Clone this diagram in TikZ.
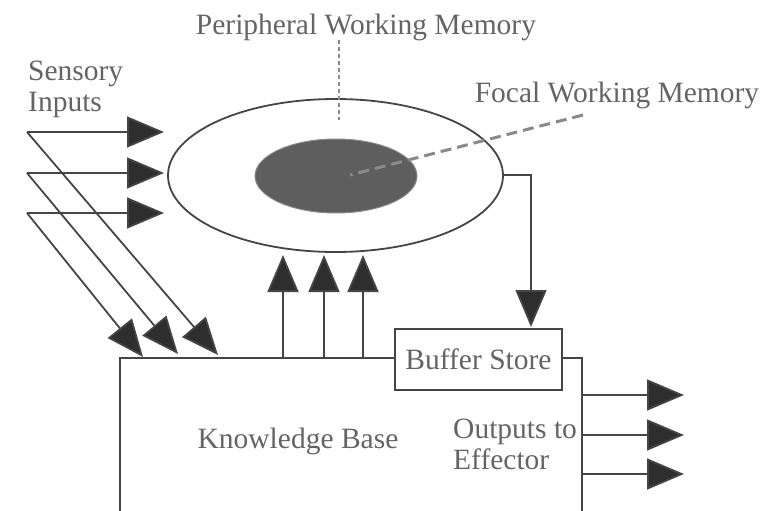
\documentclass[tikz,border=0pt]{standalone}
\usepackage{fontspec}
\setmainfont{Liberation Serif}
\usetikzlibrary{arrows.meta,shapes.geometric}
\definecolor{lineg}{HTML}{454545}
\definecolor{textg}{HTML}{646464}
\definecolor{tipfill}{HTML}{2E2E2E}
\definecolor{focalfill}{HTML}{5E5E5E}
\definecolor{leadg}{HTML}{8A8A8A}
\tikzset{
  conn/.style={draw=lineg, line width=1.8pt},
  bigarrow/.style={conn, -{Triangle[length=37pt 0,width=31pt 0,fill=tipfill]}},
  lbl/.style={text=textg, font=\fontsize{29.5}{31}\selectfont, inner sep=0pt},
  dotlead/.style={draw=leadg, line width=2pt, dash pattern=on 4pt off 3pt},
  dashlead/.style={draw=leadg, line width=3pt, dash pattern=on 11pt off 6pt},
}
\begin{document}
\begin{tikzpicture}[x=1pt,y=-1pt]
\useasboundingbox (0,0) rectangle (771,511);
% memory ellipses
\node[ellipse, draw=lineg, line width=1.8pt, fill=white, minimum width=335pt, minimum height=153pt, inner sep=0pt] (pwm) at (335.5,175.5) {};
\node[ellipse, draw=leadg, line width=1pt, fill=focalfill, minimum width=162pt, minimum height=74pt, inner sep=0pt] (fwm) at (336,176) {};
% labels
\node[lbl] (plabel) at (366,27) {Peripheral Working Memory};
\node[lbl] (flabel) at (617,95) {Focal Working Memory};
\node[lbl, align=left, anchor=north west] (slabel) at (28,61) {Sensory\\Inputs};
% leader lines
\coordinate (pl1) at (339,40);
\coordinate (pl2) at (339,120);
\draw[dotlead] (pl1) -- (pl2);
\coordinate (fl1) at (583,115);
\coordinate (fl2) at (350,175);
\draw[dashlead] (fl1) -- (fl2);
% knowledge base box
\coordinate (kbbl) at (120,515);
\coordinate (kbtl) at (120,358);
\coordinate (kbtr) at (582,358);
\coordinate (kbbr) at (582,515);
\draw[conn] (kbbl) -- (kbtl) -- (kbtr) -- (kbbr);
\node[lbl] (kb) at (298,441) {Knowledge Base};
\node[draw=lineg, line width=1.8pt, fill=white, minimum width=167pt, minimum height=61pt, inner sep=0pt, text=textg, font=\fontsize{29.5}{31}\selectfont] (buf) at (478.5,359.5) {Buffer Store};
\node[lbl, align=left, anchor=north west] (olabel) at (453,419) {Outputs to\\Effector};
% sensory inputs
\coordinate (s1) at (27,132);
\coordinate (s2) at (27,173);
\coordinate (s3) at (27,213);
\coordinate (e1) at (164,132);
\coordinate (e2) at (164,173);
\coordinate (e3) at (164,213);
\draw[bigarrow] (s1) -- (e1);
\draw[bigarrow] (s2) -- (e2);
\draw[bigarrow] (s3) -- (e3);
\coordinate (k1) at (218,355);
\coordinate (k2) at (178,354);
\coordinate (k3) at (143,357);
\draw[bigarrow] (s1) -- (k1);
\draw[bigarrow] (s2) -- (k2);
\draw[bigarrow] (s3) -- (k3);
% knowledge base to working memory
\coordinate (u1) at (283,358);
\coordinate (u2) at (324,358);
\coordinate (u3) at (363,358);
\coordinate (t1) at (283,255);
\coordinate (t2) at (324,255);
\coordinate (t3) at (363,255);
\draw[bigarrow] (u1) -- (t1);
\draw[bigarrow] (u2) -- (t2);
\draw[bigarrow] (u3) -- (t3);
% working memory to buffer
\coordinate (wr) at (503,175);
\coordinate (bt) at (531,327);
\draw[bigarrow] (wr) -| (bt);
% outputs
\coordinate (o1) at (582,395);
\coordinate (o2) at (582,435);
\coordinate (o3) at (582,474);
\coordinate (p1) at (684,395);
\coordinate (p2) at (684,435);
\coordinate (p3) at (684,474);
\draw[bigarrow] (o1) -- (p1);
\draw[bigarrow] (o2) -- (p2);
\draw[bigarrow] (o3) -- (p3);
\end{tikzpicture}
\end{document}
